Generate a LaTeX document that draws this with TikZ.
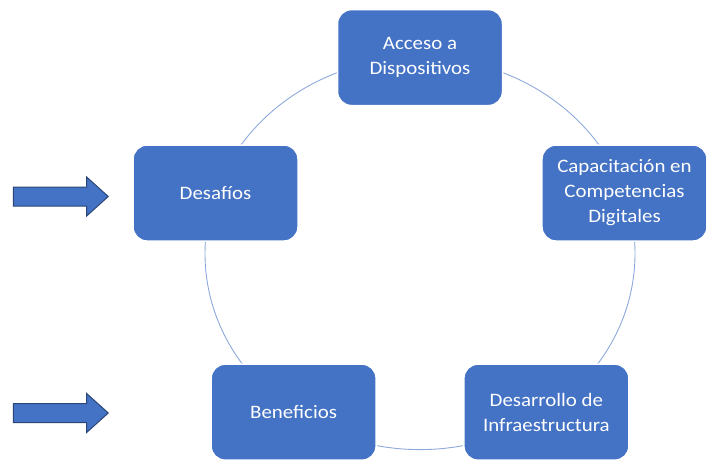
\documentclass[tikz,border=0pt]{standalone}
\usepackage{fontspec}
\newfontfamily\cajafont[FakeStretch=1.1]{Carlito}
\usepackage{tikz}
\usetikzlibrary{shapes,arrows,positioning,calc}
\definecolor{azul}{HTML}{4472C4}
\definecolor{azulborde}{HTML}{2A4677}
\definecolor{azulanillo}{HTML}{8EA9DB}

\begin{document}
\begin{tikzpicture}[x=1pt,y=1pt,
    caja/.style={rectangle, rounded corners=14pt, fill=azul, draw=white, line width=1.5pt,
      minimum width=165pt, minimum height=96pt, text=white, align=center,
      font=\cajafont\fontsize{19}{25}\selectfont},
    flecha/.style={single arrow, fill=azul, draw=azulborde, line width=1pt,
      minimum height=95pt, inner xsep=0pt, inner ysep=9pt,
      single arrow head extend=10pt, single arrow tip angle=84}]
    \useasboundingbox (0,0) rectangle (707,459);
    % anillo del ciclo
    \coordinate (centro) at (420,205.4);
    \draw[azulanillo, line width=0.9pt] (centro) ellipse (215pt and 196pt);
    \node[caja] (acceso) at ($(centro)+(90:215pt and 196pt)$) {Acceso a\\Dispositivos};
    \node[caja] (capacitacion) at ($(centro)+(18:215pt and 196pt)$) {Capacitación en\\Competencias\\Digitales};
    \node[caja] (desarrollo) at ($(centro)+(-54:215pt and 196pt)$) {Desarrollo de\\Infraestructura};
    \node[caja] (beneficios) at ($(centro)+(-126:215pt and 196pt)$) {Beneficios};
    \node[caja] (desafios) at ($(centro)+(162:215pt and 196pt)$) {Desafíos};
    % flechas de la izquierda
    \node[flecha] (flechaA) at (55.5,262.5) {};
    \node[flecha] (flechaB) at (55.5,46) {};
\end{tikzpicture}
\end{document}
